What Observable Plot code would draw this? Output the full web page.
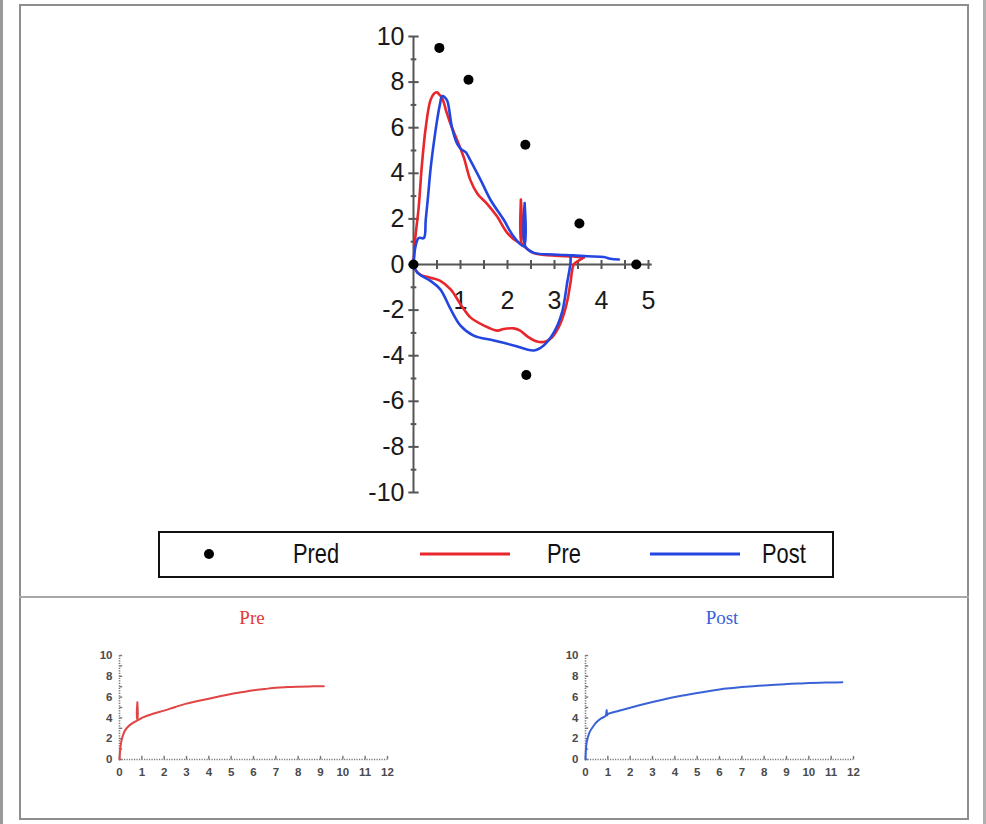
<!DOCTYPE html>
<html>
<head>
<meta charset="utf-8">
<script src="https://cdn.jsdelivr.net/npm/d3@7"></script>
<script src="https://cdn.jsdelivr.net/npm/@observablehq/plot@0.6"></script>
<style>
  html, body { margin: 0; padding: 0; background: #fff; }
  #page { position: relative; width: 986px; height: 824px; background: #fff; overflow: hidden; }
  .abs { position: absolute; }
  .frame { position: absolute; left: 19px; top: 4px; width: 950px; height: 816px; border: 2px solid #8e8e8e; box-sizing: border-box; }
  .divider { position: absolute; left: 19px; top: 596px; width: 950px; height: 0; border-top: 2px solid #a8a8a8; }
  .lstrip { position: absolute; left: 0; top: 0; width: 3px; height: 824px; background: #9a9a9a; }
  .rstrip { position: absolute; left: 983px; top: 0; width: 3px; height: 824px; background: #b0b0b0; }
  #legend { position: absolute; left: 158px; top: 531px; width: 676px; height: 47px; border: 2px solid #111; box-sizing: border-box; }
  .ltxt { position: absolute; top: 5px; font-family: "Liberation Sans", Arial, sans-serif; font-size: 28px; color: #111; transform: scaleX(0.78); transform-origin: left center; white-space: nowrap; }
  .ptitle { position: absolute; top: 607px; font-family: "Liberation Serif", "Times New Roman", serif; font-size: 19px; transform: translateX(-50%); }
</style>
</head>
<body>
<div id="page">
  <div class="lstrip"></div>
  <div class="rstrip"></div>
  <div class="frame"></div>
  <div class="divider"></div>
  <div id="main" class="abs" style="left:300px; top:0px;"></div>
  <div id="legend"></div>
  <div class="ptitle" style="left:252px; color:#e03a3a;">Pre</div>
  <div class="ptitle" style="left:722px; color:#3a5fd8;">Post</div>
  <div id="prePanel" class="abs" style="left:80px; top:640px;"></div>
  <div id="postPanel" class="abs" style="left:546px; top:640px;"></div>
</div>
<script>
// ---- Data ----
// Predicted flow-volume points
const predVolume = [0, 0.55, 1.17, 2.38, 3.53, 4.74, 2.40];
const predFlow   = [0, 9.5, 8.1, 5.25, 1.8, 0, -4.85];

// Pre (red) expiratory limb
const preExpVolume = [0, 0.02, 0.04, 0.11, 0.18, 0.26, 0.36, 0.44, 0.50, 0.55, 0.61, 0.70, 0.79, 0.93, 1.07, 1.21, 1.36, 1.57, 1.78, 1.99, 2.21, 2.28, 2.285, 2.30, 2.38, 2.56, 2.80, 3.10, 3.40, 3.62];
const preExpFlow   = [0, 0.6, 1.2, 2.5, 4.4, 6.0, 7.2, 7.5, 7.55, 7.45, 7.3, 6.7, 6.15, 5.45, 4.7, 3.7, 3.1, 2.65, 2.1, 1.4, 1.0, 0.95, 2.85, 0.92, 0.75, 0.5, 0.42, 0.38, 0.35, 0.3];
// Pre (red) inspiratory limb
const preInsVolume = [3.62, 3.50, 3.41, 3.34, 3.28, 3.20, 3.09, 2.95, 2.81, 2.63, 2.42, 2.27, 2.13, 1.92, 1.78, 1.50, 1.21, 1.00, 0.79, 0.57, 0.36, 0.15, 0.03, 0];
const preInsFlow   = [0.3, 0.15, 0.0, -0.8, -1.52, -2.17, -2.75, -3.19, -3.38, -3.38, -3.15, -2.9, -2.8, -2.83, -2.9, -2.68, -2.32, -1.74, -1.09, -0.72, -0.58, -0.45, -0.2, 0];

// Post (blue) expiratory limb
const postExpVolume = [0, 0.03, 0.11, 0.22, 0.26, 0.31, 0.36, 0.43, 0.50, 0.56, 0.61, 0.66, 0.72, 0.82, 0.93, 1.02, 1.11, 1.21, 1.43, 1.64, 1.92, 2.13, 2.35, 2.365, 2.38, 2.56, 2.98, 3.40, 3.70, 4.05, 4.19, 4.37];
const postExpFlow   = [0, 0.65, 1.16, 1.16, 1.96, 3.0, 4.13, 5.3, 6.3, 7.0, 7.39, 7.35, 7.17, 6.0, 5.29, 5.05, 4.93, 4.57, 3.7, 2.83, 1.96, 1.23, 0.8, 2.7, 0.78, 0.51, 0.44, 0.4, 0.36, 0.33, 0.25, 0.22];
// Post (blue) inspiratory limb
const postInsVolume = [3.34, 3.34, 3.27, 3.16, 2.99, 2.77, 2.56, 2.13, 1.71, 1.28, 1.00, 0.79, 0.57, 0.36, 0.08, 0];
const postInsFlow   = [0.4, 0.07, -0.8, -2.1, -2.97, -3.55, -3.77, -3.55, -3.33, -3.12, -2.68, -1.96, -1.09, -0.72, -0.36, 0];

// Volume-time curves
const preTime  = [0, 0.03, 0.07, 0.15, 0.25, 0.4, 0.55, 0.7, 0.79, 0.8, 0.81, 1.0, 1.5, 2.0, 2.5, 3.0, 3.5, 4.0, 4.5, 5.0, 5.5, 6.0, 6.5, 7.0, 7.5, 8.0, 8.5, 9.0, 9.15];
const preVol   = [0, 0.9, 1.6, 2.3, 2.8, 3.2, 3.45, 3.65, 3.75, 5.5, 3.8, 4.0, 4.4, 4.7, 5.05, 5.37, 5.62, 5.85, 6.08, 6.3, 6.48, 6.65, 6.78, 6.9, 6.96, 7.0, 7.03, 7.05, 7.05];
const postTime = [0, 0.02, 0.05, 0.1, 0.2, 0.35, 0.5, 0.7, 0.9, 0.95, 0.97, 1.0, 1.5, 2.0, 2.5, 3.0, 3.5, 4.0, 4.5, 5.0, 5.5, 6.0, 6.5, 7.0, 7.5, 8.0, 8.5, 9.0, 9.5, 10.0, 10.5, 11.0, 11.5];
const postVol  = [0, 1.0, 1.6, 2.1, 2.7, 3.2, 3.6, 3.95, 4.2, 4.75, 4.25, 4.35, 4.68, 4.98, 5.27, 5.53, 5.77, 6.0, 6.2, 6.39, 6.57, 6.74, 6.86, 6.96, 7.05, 7.12, 7.19, 7.25, 7.3, 7.35, 7.38, 7.41, 7.42];

// Tick labels
const mainYLabels = [10, 8, 6, 4, 2, 0, -2, -4, -6, -8, -10];
const mainXLabels = [1, 2, 3, 4, 5];
const mainYMajor = d3.range(-10, 11, 2);
const mainYMinor = d3.range(-9, 10, 2);
const mainXTicks = d3.range(0.5, 5.01, 0.5);
const legendItems = ["Pred", "Pre", "Post"];

const RED = "#e8262b", BLUE = "#2346e0";
const zip = (xs, ys) => xs.map((x, i) => ({x, y: ys[i]}));

// ---- Main flow-volume chart ----
const axisColor = "#555";
const main = Plot.plot({
  width: 400, height: 520,
  marginLeft: 113, marginRight: 52, marginTop: 36, marginBottom: 28,
  x: {domain: [0, 5], axis: null},
  y: {domain: [-10, 10], axis: null},
  style: {fontFamily: "'Liberation Sans', Arial, sans-serif", fontSize: "25px", background: "transparent", overflow: "visible"},
  marks: [
    Plot.ruleX([0], {y1: -10, y2: 10, stroke: axisColor, strokeWidth: 2}),
    Plot.ruleY([0], {x1: 0, x2: 5.08, stroke: axisColor, strokeWidth: 2}),
    Plot.link(mainYMajor, {x1: -0.11, x2: 0.11, y1: d => d, y2: d => d, stroke: axisColor, strokeWidth: 2}),
    Plot.link(mainYMinor, {x1: -0.06, x2: 0.06, y1: d => d, y2: d => d, stroke: axisColor, strokeWidth: 2}),
    Plot.link(mainXTicks, {x1: d => d, x2: d => d, y1: -0.2, y2: 0.2, stroke: axisColor, strokeWidth: 2}),
    Plot.text(mainYLabels, {x: 0, y: d => d, text: d => String(d), textAnchor: "end", dx: -9, fill: "#1a1a1a"}),
    Plot.text(mainXLabels, {x: d => d, y: 0, dy: 36, text: d => String(d), fill: "#1a1a1a"}),
    Plot.line(zip(preExpVolume, preExpFlow), {x: "x", y: "y", stroke: RED, strokeWidth: 2.6, curve: "catmull-rom"}),
    Plot.line(zip(preInsVolume, preInsFlow), {x: "x", y: "y", stroke: RED, strokeWidth: 2.6, curve: "catmull-rom"}),
    Plot.line(zip(postExpVolume, postExpFlow), {x: "x", y: "y", stroke: BLUE, strokeWidth: 2.6, curve: "catmull-rom"}),
    Plot.line(zip(postInsVolume, postInsFlow), {x: "x", y: "y", stroke: BLUE, strokeWidth: 2.6, curve: "catmull-rom"}),
    Plot.dot(zip(predVolume, predFlow), {x: "x", y: "y", r: 5, fill: "#000", stroke: "none"})
  ]
});
document.getElementById("main").appendChild(main);

// ---- Legend ----
const legend = document.getElementById("legend");
const lx = [{sw: 44, tx: 133}, {sw: 260, tx: 387}, {sw: 490, tx: 602}];
legendItems.forEach((name, i) => {
  const sw = document.createElementNS("http://www.w3.org/2000/svg", "svg");
  sw.setAttribute("width", "92"); sw.setAttribute("height", "20");
  sw.style.position = "absolute"; sw.style.left = lx[i].sw + "px"; sw.style.top = "11px";
  if (i === 0) {
    sw.innerHTML = `<circle cx="5" cy="10" r="5" fill="#000"/>`;
  } else {
    sw.innerHTML = `<line x1="0" x2="90" y1="10" y2="10" stroke="${i === 1 ? RED : BLUE}" stroke-width="3"/>`;
  }
  legend.appendChild(sw);
  const t = document.createElement("div");
  t.className = "ltxt"; t.style.left = lx[i].tx + "px"; t.textContent = name;
  legend.appendChild(t);
});

// ---- Volume-time panels ----
function panel(time, vol, color) {
  return Plot.plot({
    width: 330, height: 150,
    marginLeft: 39, marginRight: 23, marginTop: 15, marginBottom: 31,
    x: {domain: [0, 12], ticks: 12, tickSize: 0, tickPadding: 8, label: null},
    y: {domain: [0, 10], ticks: 5, tickSize: 0, tickPadding: 7, label: null},
    style: {fontFamily: "'Liberation Sans', Arial, sans-serif", fontSize: "11.5px", fontWeight: "bold", color: "#4a4a4a", background: "transparent", overflow: "visible"},
    marks: [
      Plot.ruleY([0], {x1: 0, x2: 12, stroke: "#777", strokeWidth: 1.6, strokeDasharray: "1.2,1.3"}),
      Plot.ruleX([0], {y1: 0, y2: 10, stroke: "#777", strokeWidth: 1.6, strokeDasharray: "1.2,1.3"}),
      Plot.link(d3.range(0, 12.01, 1), {x1: d => d, x2: d => d, y1: 0, y2: 0.35, stroke: "#777", strokeWidth: 1.4}),
      Plot.link(d3.range(0, 10.01, 1), {x1: 0, x2: 0.12, y1: d => d, y2: d => d, stroke: "#777", strokeWidth: 1.4}),
      Plot.line(zip(time, vol), {x: "x", y: "y", stroke: color, strokeWidth: 2, curve: "catmull-rom"})
    ]
  });
}
document.getElementById("prePanel").appendChild(panel(preTime, preVol, "#e04444"));
document.getElementById("postPanel").appendChild(panel(postTime, postVol, "#3a62d6"));
</script>
</body>
</html>
